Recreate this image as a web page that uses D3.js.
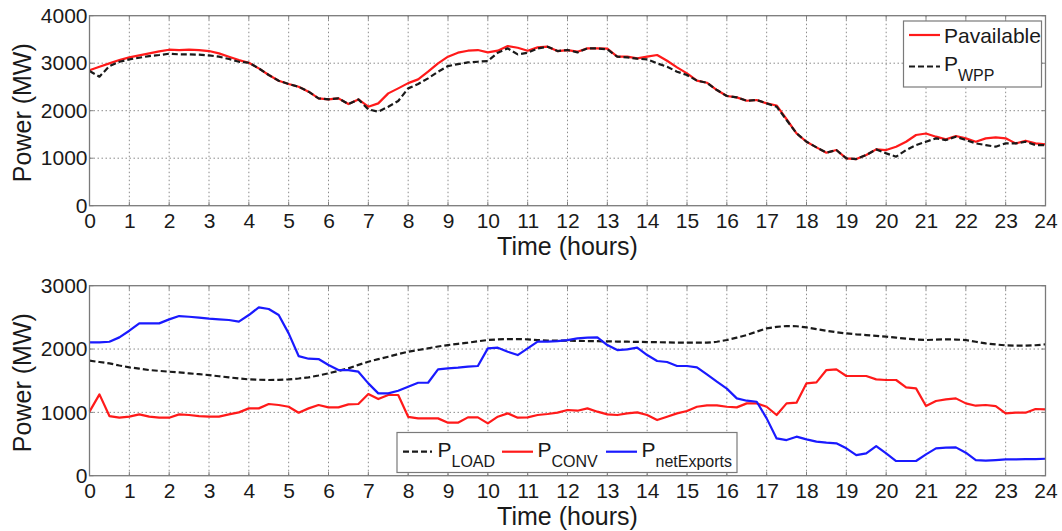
<!DOCTYPE html>
<html>
<head>
<meta charset="utf-8">
<script src="https://cdn.jsdelivr.net/npm/d3@7"></script>
<style>
  body { margin: 0; background: #fff; }
  svg { display: block; font-family: "Liberation Sans", Arial, sans-serif; }
</style>
</head>
<body>
<svg id="chart" width="1062" height="531"></svg>
<script>
// ---------- DATA ----------
const hours = [0,0.25,0.5,0.75,1,1.25,1.5,1.75,2,2.25,2.5,2.75,3,3.25,3.5,3.75,4,4.25,4.5,4.75,5,5.25,5.5,5.75,6,6.25,6.5,6.75,7,7.25,7.5,7.75,8,8.25,8.5,8.75,9,9.25,9.5,9.75,10,10.25,10.5,10.75,11,11.25,11.5,11.75,12,12.25,12.5,12.75,13,13.25,13.5,13.75,14,14.25,14.5,14.75,15,15.25,15.5,15.75,16,16.25,16.5,16.75,17,17.25,17.5,17.75,18,18.25,18.5,18.75,19,19.25,19.5,19.75,20,20.25,20.5,20.75,21,21.25,21.5,21.75,22,22.25,22.5,22.75,23,23.25,23.5,23.75,24];

const pAvailable = [2850,2926,2996,3066,3122,3165,3207,3249,3284,3277,3284,3277,3256,3207,3137,3066,3010,2891,2751,2632,2561,2505,2400,2260,2238,2260,2140,2238,2084,2154,2365,2470,2580,2660,2821,2996,3137,3221,3263,3277,3228,3263,3361,3326,3263,3333,3347,3256,3277,3242,3312,3312,3305,3137,3137,3102,3137,3172,3052,2912,2786,2632,2589,2435,2309,2281,2210,2225,2154,2110,1820,1523,1347,1228,1116,1172,996,982,1067,1186,1172,1242,1347,1488,1520,1453,1396,1467,1418,1347,1418,1439,1418,1312,1368,1312,1291];

const pWPP = [2835,2716,2940,3030,3080,3115,3150,3172,3200,3186,3186,3179,3165,3137,3088,3031,3010,2891,2751,2632,2561,2505,2400,2260,2238,2260,2140,2238,2028,1979,2084,2204,2470,2561,2681,2821,2940,2982,3017,3031,3045,3221,3312,3186,3221,3312,3347,3256,3277,3228,3312,3312,3291,3137,3123,3095,3080,2996,2926,2821,2751,2632,2589,2435,2309,2281,2210,2225,2154,2084,1804,1523,1347,1228,1116,1172,996,982,1067,1186,1102,1032,1172,1277,1347,1418,1382,1453,1382,1312,1277,1242,1312,1312,1347,1277,1277];

const pLoad = [1816,1795,1774,1740,1711,1690,1668,1655,1642,1630,1616,1603,1589,1570,1553,1535,1521,1515,1511,1514,1521,1535,1553,1582,1616,1655,1695,1750,1800,1840,1879,1920,1958,1985,2011,2040,2063,2082,2100,2122,2142,2152,2158,2158,2153,2142,2132,2132,2132,2130,2126,2124,2121,2118,2116,2113,2110,2108,2105,2102,2100,2100,2100,2115,2142,2180,2221,2275,2326,2350,2363,2360,2342,2315,2289,2265,2247,2232,2221,2208,2195,2180,2163,2150,2142,2148,2153,2150,2142,2115,2089,2072,2058,2053,2053,2060,2074];

const pConv = [1011,1284,942,916,932,968,932,916,916,968,958,942,932,932,968,1000,1063,1063,1132,1116,1089,995,1063,1116,1079,1079,1126,1132,1289,1210,1274,1274,930,905,905,905,837,837,921,921,826,932,984,916,921,958,974,995,1037,1026,1063,1011,968,958,984,1000,958,879,932,984,1021,1089,1111,1111,1089,1079,1142,1142,1089,958,1142,1153,1458,1474,1668,1679,1574,1574,1574,1521,1511,1511,1395,1379,1100,1179,1205,1221,1142,1105,1116,1100,984,995,995,1053,1047];

const pNetExports = [2105,2105,2115,2184,2289,2405,2405,2405,2468,2521,2510,2495,2479,2468,2458,2432,2537,2658,2632,2537,2247,1889,1847,1842,1747,1668,1668,1642,1458,1300,1300,1342,1405,1468,1468,1679,1695,1705,1721,1732,2011,2021,1958,1905,2011,2116,2116,2126,2142,2168,2179,2184,2063,1984,1995,2021,1905,1811,1795,1732,1732,1711,1600,1484,1375,1221,1184,1168,905,589,563,616,574,537,521,511,432,326,353,468,353,232,232,232,337,432,442,447,363,247,237,247,258,258,263,263,268];

const xTicks = [0,1,2,3,4,5,6,7,8,9,10,11,12,13,14,15,16,17,18,19,20,21,22,23,24];
const yTicksTop = [0,1000,2000,3000,4000];
const yTicksBottom = [0,1000,2000,3000];
const xLabel = "Time (hours)";
const yLabel = "Power (MW)";

// ---------- DRAW ----------
const svg = d3.select("#chart");
const L = 89.5, R = 1045.5;
const x = d3.scaleLinear().domain([0, 24]).range([L, R]);

function panel(top, bottom, yMax, yTicks, series) {
  const y = d3.scaleLinear().domain([0, yMax]).range([bottom, top]);
  const g = svg.append("g");
  // grid
  g.append("g").selectAll("line").data(xTicks.slice(1, -1)).join("line")
    .attr("x1", d => x(d)).attr("x2", d => x(d)).attr("y1", top).attr("y2", bottom)
    .attr("stroke", "#8c8c8c").attr("stroke-width", 1).attr("stroke-dasharray", "1.5,2.5");
  g.append("g").selectAll("line").data(yTicks.slice(1, -1)).join("line")
    .attr("y1", d => y(d)).attr("y2", d => y(d)).attr("x1", L).attr("x2", R)
    .attr("stroke", "#8c8c8c").attr("stroke-width", 1).attr("stroke-dasharray", "1.5,2.5");
  // axes (labels)
  const ax = g.append("g").attr("transform", `translate(0,${bottom})`)
    .call(d3.axisBottom(x).tickValues(xTicks).tickSize(0).tickPadding(7.6).tickFormat(d3.format("d")));
  ax.select(".domain").remove();
  ax.selectAll("text").attr("font-size", 21).attr("fill", "#1a1a1a")
    .attr("font-family", "Liberation Sans, Arial, sans-serif");
  const ay = g.append("g").attr("transform", `translate(${L},0)`)
    .call(d3.axisLeft(y).tickValues(yTicks).tickSize(0).tickPadding(2).tickFormat(d3.format("d")));
  ay.select(".domain").remove();
  ay.selectAll("text").attr("font-size", 21).attr("fill", "#1a1a1a")
    .attr("font-family", "Liberation Sans, Arial, sans-serif");
  // inner tick marks
  const tk = g.append("g").attr("stroke", "#808080").attr("stroke-width", 1);
  xTicks.forEach(d => {
    tk.append("line").attr("x1", x(d)).attr("x2", x(d)).attr("y1", bottom).attr("y2", bottom - 4);
    tk.append("line").attr("x1", x(d)).attr("x2", x(d)).attr("y1", top).attr("y2", top + 4);
  });
  yTicks.forEach(d => {
    tk.append("line").attr("x1", L).attr("x2", L + 4).attr("y1", y(d)).attr("y2", y(d));
    tk.append("line").attr("x1", R).attr("x2", R - 4).attr("y1", y(d)).attr("y2", y(d));
  });
  // lines
  series.forEach(s => {
    const line = d3.line().x((d, i) => x(hours[i])).y(d => y(d));
    g.append("path").datum(s.values)
      .attr("fill", "none").attr("stroke", s.color).attr("stroke-width", 2.2)
      .attr("stroke-linejoin", "round")
      .attr("stroke-dasharray", s.dash || null)
      .attr("d", line);
  });
  // frame
  g.append("rect").attr("x", L).attr("y", top).attr("width", R - L).attr("height", bottom - top)
    .attr("fill", "none").attr("stroke", "#7a7a7a").attr("stroke-width", 1.3);
  // titles
  g.append("text").attr("x", (L + R) / 2).attr("y", bottom + 49.5)
    .attr("text-anchor", "middle").attr("font-size", 25).attr("fill", "#1a1a1a").text(xLabel);
  g.append("text").attr("transform", `translate(31,${(top + bottom) / 2 + 2}) rotate(-90)`)
    .attr("text-anchor", "middle").attr("font-size", 25).attr("fill", "#1a1a1a").text(yLabel);
  return g;
}

const gTop = panel(15.7, 205.7, 4000, yTicksTop, [
  { values: pAvailable, color: "#ff1a1a" },
  { values: pWPP, color: "#1a1a1a", dash: "6,3" }
]);

const gBot = panel(285.7, 475.7, 3000, yTicksBottom, [
  { values: pLoad, color: "#1a1a1a", dash: "6,3" },
  { values: pConv, color: "#ff1a1a" },
  { values: pNetExports, color: "#1a1aff" }
]);

// ---------- LEGENDS ----------
function sample(g, x1, x2, yy, color, dash) {
  g.append("line").attr("x1", x1).attr("x2", x2).attr("y1", yy).attr("y2", yy)
    .attr("stroke", color).attr("stroke-width", 2.2).attr("stroke-dasharray", dash || null);
}
function subText(g, xx, yy, main, sub) {
  const t = g.append("text").attr("x", xx).attr("y", yy).attr("font-size", 21).attr("fill", "#1a1a1a");
  t.append("tspan").text(main);
  if (sub) t.append("tspan").attr("font-size", 16).attr("dy", 10).text(sub);
}

const lg1 = svg.append("g");
lg1.append("rect").attr("x", 903.5).attr("y", 21).attr("width", 138).attr("height", 66)
  .attr("fill", "#fff").attr("stroke", "#7a7a7a").attr("stroke-width", 1.2);
sample(lg1, 909, 940, 35, "#ff1a1a");
subText(lg1, 944, 43, "Pavailable");
sample(lg1, 909, 940, 66.5, "#1a1a1a", "6,3");
subText(lg1, 944, 71, "P", "WPP");

const lg2 = svg.append("g");
lg2.append("rect").attr("x", 397).attr("y", 432.5).attr("width", 340).attr("height", 40)
  .attr("fill", "#fff").attr("stroke", "#7a7a7a").attr("stroke-width", 1.2);
sample(lg2, 403, 432, 451.7, "#1a1a1a", "6,3");
subText(lg2, 437.5, 456.5, "P", "LOAD");
sample(lg2, 502, 533, 451.7, "#ff1a1a");
subText(lg2, 537.5, 456.5, "P", "CONV");
sample(lg2, 606, 637, 451.7, "#1a1aff");
subText(lg2, 641.5, 456.5, "P", "netExports");
</script>
</body>
</html>
